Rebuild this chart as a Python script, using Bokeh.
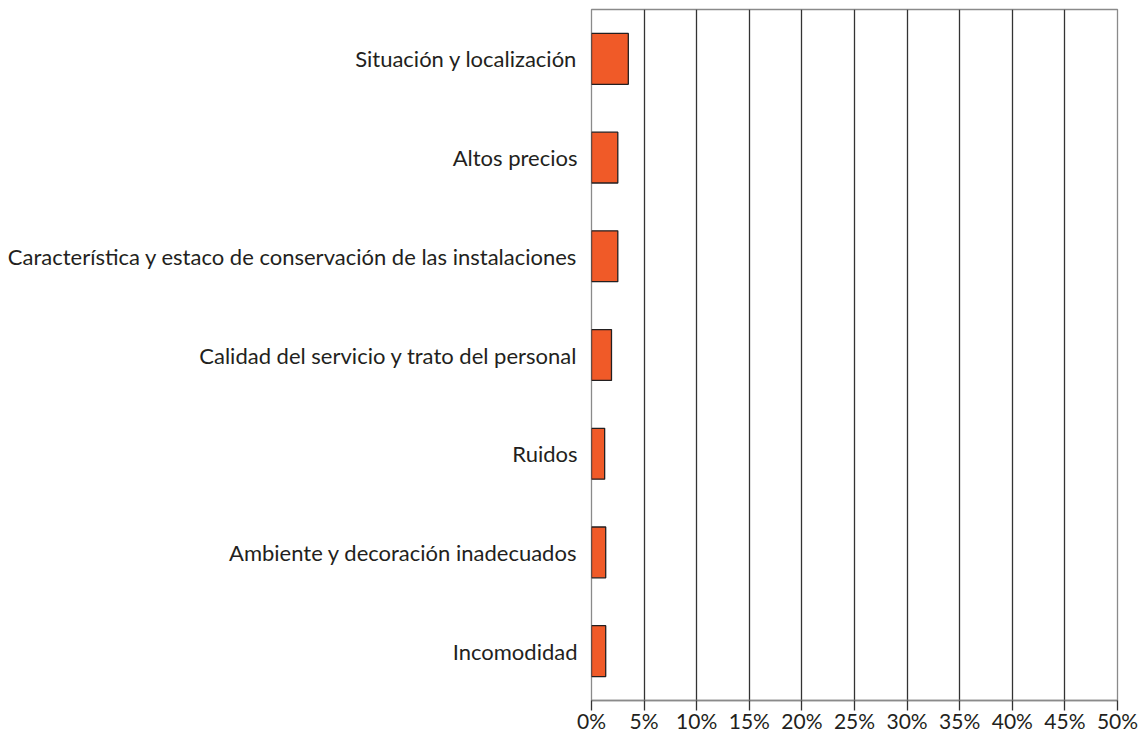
from bokeh.plotting import figure
from bokeh.models import FactorRange, Range1d, FixedTicker, PrintfTickFormatter, ColumnDataSource
from bokeh.embed import file_html
from bokeh.resources import INLINE

categories = [
    "Situación y localización",
    "Altos precios",
    "Característica y estaco de conservación de las instalaciones",
    "Calidad del servicio y trato del personal",
    "Ruidos",
    "Ambiente y decoración inadecuados",
    "Incomodidad",
]
values = [3.5, 2.5, 2.5, 1.9, 1.25, 1.35, 1.35]
x_ticks = [0, 5, 10, 15, 20, 25, 30, 35, 40, 45, 50]

FONT = "Lato"
TEXT = "#231f20"

src = ColumnDataSource(data=dict(cat=categories, val=values))

p = figure(
    width=1147, height=735,
    y_range=FactorRange(factors=list(reversed(categories)), range_padding=0),
    x_range=Range1d(0, 50),
    output_backend="svg", toolbar_location=None, tools="",
    min_border_left=591, min_border_right=30, min_border_top=9, min_border_bottom=0,
)

p.hbar(y="cat", right="val", left=0, height=0.515, source=src,
       fill_color="#F05A28", line_color="#231f20", line_width=1.3)

p.outline_line_color = "#8a8a8a"
p.outline_line_width = 1.3

p.ygrid.grid_line_color = None
p.xgrid.ticker = FixedTicker(ticks=x_ticks)
p.xgrid.grid_line_color = "#333333"
p.xgrid.grid_line_width = 1.3

p.xaxis.ticker = FixedTicker(ticks=x_ticks)
p.xaxis.formatter = PrintfTickFormatter(format="%d%%")
p.xaxis.axis_line_color = "#8a8a8a"
p.xaxis.axis_line_width = 1.3
p.xaxis.major_tick_line_color = "#333333"
p.xaxis.major_tick_line_width = 1.3
p.xaxis.major_tick_out = 10
p.xaxis.major_tick_in = 0
p.xaxis.minor_tick_line_color = None
p.xaxis.major_label_standoff = -3
p.xaxis.major_label_text_font = FONT
p.xaxis.major_label_text_font_size = "21px"
p.xaxis.major_label_text_color = TEXT

p.yaxis.axis_line_color = None
p.yaxis.major_tick_line_color = None
p.yaxis.minor_tick_line_color = None
p.yaxis.major_tick_out = 0
p.yaxis.major_tick_in = 0
p.yaxis.major_label_standoff = 14
p.yaxis.major_label_text_font = FONT
p.yaxis.major_label_text_font_size = "22px"
p.yaxis.major_label_text_color = TEXT

p.background_fill_color = "white"
p.border_fill_color = "white"

open("out.html", "w").write(file_html(p, INLINE))
